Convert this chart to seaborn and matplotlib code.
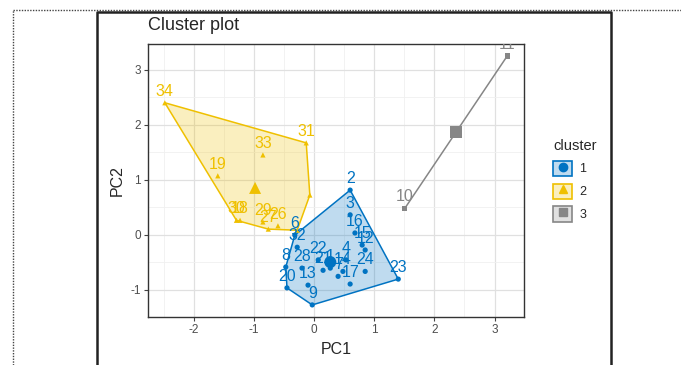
import matplotlib
matplotlib.use("Agg")
import matplotlib.pyplot as plt
import seaborn as sns
import pandas as pd
from matplotlib.colors import to_rgba
from matplotlib.lines import Line2D
from matplotlib.patches import Patch

# Data
cluster1_labels = ["2", "3", "16", "15", "12", "4", "14", "24", "17", "23",
                   "22", "28", "21", "8", "20", "13", "9", "6", "32", "1", "7"]
cluster1_pc1 = [0.60, 0.60, 0.68, 0.80, 0.85, 0.53, 0.48, 0.85, 0.60, 1.40,
                0.07, -0.20, 0.15, -0.47, -0.45, -0.10, -0.03, -0.32, -0.28, 0.27, 0.40]
cluster1_pc2 = [0.81, 0.36, 0.03, -0.19, -0.28, -0.46, -0.67, -0.67, -0.90, -0.81,
                -0.46, -0.61, -0.65, -0.59, -0.97, -0.92, -1.28, -0.01, -0.23, -0.61, -0.76]

cluster2_labels = ["34", "33", "31", "", "19", "30", "18", "29", "26", "27", ""]
cluster2_pc1 = [-2.48, -0.85, -0.13, -0.07, -1.60, -1.29, -1.23, -0.85, -0.60, -0.76, -0.28]
cluster2_pc2 = [2.40, 1.45, 1.67, 0.72, 1.07, 0.26, 0.26, 0.23, 0.16, 0.10, 0.08]

cluster3_labels = ["10", "11"]
cluster3_pc1 = [1.51, 3.21]
cluster3_pc2 = [0.48, 3.25]

cluster_ids = ["1", "2", "3"]
center_pc1 = [0.27, -0.98, 2.36]
center_pc2 = [-0.50, 0.85, 1.87]

COLORS = {"1": "#0073C2", "2": "#EFC000", "3": "#868686"}
MARKERS = {"1": "o", "2": "^", "3": "s"}


def convex_hull(pts):
    pts = sorted(set(pts))
    if len(pts) <= 2:
        return pts

    def cross(o, a, b):
        return (a[0] - o[0]) * (b[1] - o[1]) - (a[1] - o[1]) * (b[0] - o[0])

    lower, upper = [], []
    for p in pts:
        while len(lower) >= 2 and cross(lower[-2], lower[-1], p) <= 0:
            lower.pop()
        lower.append(p)
    for p in reversed(pts):
        while len(upper) >= 2 and cross(upper[-2], upper[-1], p) <= 0:
            upper.pop()
        upper.append(p)
    return lower[:-1] + upper[:-1]


frames = []
for cid, labs, xs, ys in [("1", cluster1_labels, cluster1_pc1, cluster1_pc2),
                          ("2", cluster2_labels, cluster2_pc1, cluster2_pc2),
                          ("3", cluster3_labels, cluster3_pc1, cluster3_pc2)]:
    frames.append(pd.DataFrame({"label": labs, "PC1": xs, "PC2": ys, "cluster": cid}))
points = pd.concat(frames, ignore_index=True)
centers = pd.DataFrame({"PC1": center_pc1, "PC2": center_pc2, "cluster": cluster_ids})

sns.set_theme(style="white")
plt.rcParams["font.family"] = ["Liberation Sans", "DejaVu Sans"]
plt.rcParams["axes.unicode_minus"] = False

fig = plt.figure(figsize=(6.81, 3.65), dpi=100)
ax = fig.add_axes([148 / 681, 1 - 317 / 365, (524 - 148) / 681, (317 - 44) / 365])

# hulls
for cid in cluster_ids:
    sub = points[points["cluster"] == cid]
    hull = convex_hull(list(zip(sub["PC1"], sub["PC2"])))
    col = COLORS[cid]
    if len(hull) > 2:
        ax.fill([p[0] for p in hull], [p[1] for p in hull],
                facecolor=to_rgba(col, 0.25), edgecolor=col, linewidth=1.1, zorder=2)
    else:
        ax.plot([p[0] for p in hull], [p[1] for p in hull], color=col, linewidth=1.1, zorder=2)

sns.scatterplot(data=points, x="PC1", y="PC2", hue="cluster", style="cluster",
                palette=COLORS, markers=MARKERS, s=14, linewidth=0,
                legend=False, ax=ax, zorder=3)
sns.scatterplot(data=centers, x="PC1", y="PC2", hue="cluster", style="cluster",
                palette=COLORS, markers=MARKERS, s=75, linewidth=0,
                legend=False, ax=ax, zorder=4)

for _, row in points.iterrows():
    if row["label"]:
        ax.annotate(row["label"], (row["PC1"], row["PC2"]), xytext=(0, 3),
                    textcoords="offset points", ha="center", va="bottom",
                    fontsize=11.5, color=COLORS[row["cluster"]], clip_on=True, zorder=5)

ax.set_xlim(-2.76, 3.49)
ax.set_ylim(-1.50, 3.47)
ax.set_xticks([-2, -1, 0, 1, 2, 3])
ax.set_yticks([-1, 0, 1, 2, 3])
ax.set_xticks([-2.5, -1.5, -0.5, 0.5, 1.5, 2.5], minor=True)
ax.set_yticks([-0.5, 0.5, 1.5, 2.5], minor=True)
ax.grid(which="major", color="#E0E0E0", linewidth=0.9)
ax.grid(which="minor", color="#F0F0F0", linewidth=0.6)
ax.set_axisbelow(True)
ax.tick_params(which="major", direction="out", length=3, width=0.8, color="#444444",
               labelsize=8.5, labelcolor="#4D4D4D", pad=2, bottom=True, left=True)
ax.tick_params(which="minor", length=0)
for sp in ax.spines.values():
    sp.set_color("#333333")
    sp.set_linewidth(1.0)
ax.set_xlabel("PC1", fontsize=11.5, labelpad=4)
ax.set_ylabel("PC2", fontsize=11.5, labelpad=4)
fig.text(148 / 681, 1 - 25 / 365, "Cluster plot", fontsize=13, ha="left", va="center")

# legend
handles = []
for cid in cluster_ids:
    col = COLORS[cid]
    handles.append((Patch(facecolor=to_rgba(col, 0.25), edgecolor=col, linewidth=1.2),
                    Line2D([], [], marker=MARKERS[cid], color=col, linestyle="none", markersize=6)))
leg = fig.legend(handles, cluster_ids, title="cluster", loc="upper left",
                 bbox_to_anchor=(542 / 681, 1 - 128 / 365), frameon=False,
                 fontsize=9, title_fontsize=10.5, handlelength=1.5, handleheight=1.5,
                 labelspacing=0.6, handletextpad=0.6, alignment="left")

# surrounding frame of the embedded picture
fig.add_artist(Line2D([13 / 681, 1], [1 - 10 / 365, 1 - 10 / 365], color="#444444",
                      linewidth=1.0, linestyle=(0, (1, 1))))
fig.add_artist(Line2D([13 / 681, 13 / 681], [0, 1 - 10 / 365], color="#444444",
                      linewidth=1.0, linestyle=(0, (1, 1))))
fig.add_artist(Line2D([97 / 681, 97 / 681, 611 / 681, 611 / 681],
                      [0, 1 - 12 / 365, 1 - 12 / 365, 0], color="#222222", linewidth=1.8))

fig.savefig("out.png", dpi=100)
